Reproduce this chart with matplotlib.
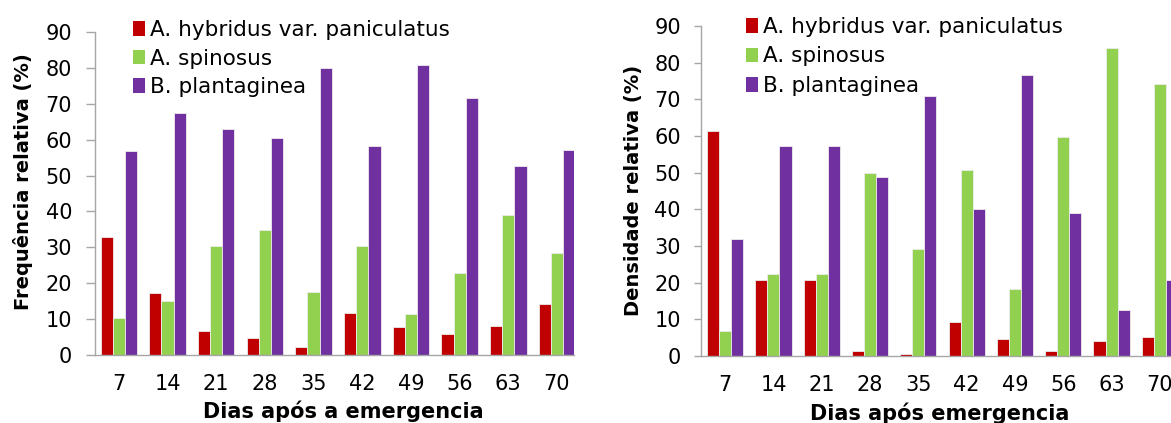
import numpy as np
import matplotlib
matplotlib.use('Agg')
import matplotlib.pyplot as plt
from matplotlib.patches import Patch

# Days after emergence
dias = ['7', '14', '21', '28', '35', '42', '49', '56', '63', '70']
especies = ['A. hybridus var. paniculatus', 'A. spinosus', 'B. plantaginea']
cores = ['#C00000', '#92D050', '#7030A0']

# Relative frequency (%)
freq_hybridus = [32.8, 17.3, 6.8, 4.7, 2.2, 11.7, 7.8, 5.8, 8.2, 14.2]
freq_spinosus = [10.3, 15.1, 30.3, 34.9, 17.6, 30.3, 11.3, 22.8, 39.0, 28.5]
freq_plantaginea = [56.9, 67.4, 63.0, 60.4, 80.0, 58.3, 80.8, 71.6, 52.7, 57.2]

# Relative density (%)
dens_hybridus = [61.3, 20.8, 20.8, 1.5, 0.5, 9.3, 4.7, 1.5, 4.0, 5.1]
dens_spinosus = [6.8, 22.5, 22.5, 49.8, 29.2, 50.8, 18.4, 59.6, 84.1, 74.3]
dens_plantaginea = [32.0, 57.2, 57.2, 48.7, 70.8, 40.1, 76.7, 39.0, 12.5, 20.8]

plt.rcParams['font.family'] = ['DejaVu Sans']

W, H = 1171, 423
fig = plt.figure(figsize=(W / 100, H / 100), dpi=100)

def px_axes(x0, x1, ytop, ybot):
    return fig.add_axes([x0 / W, (H - ybot) / H, (x1 - x0) / W, (ybot - ytop) / H])

ax1 = px_axes(95, 574, 32, 355)
ax2 = px_axes(701, 1184, 26, 356)

def draw(ax, series, xlim, ticklen, tickpad, legend_xy, spacing):
    x = np.arange(len(dias))
    w = 0.25
    for k, (vals, c) in enumerate(zip(series, cores)):
        ax.bar(x + (k - 1) * w, vals, w, color=c, edgecolor='#ececec', linewidth=0.6)
    ax.set_xlim(*xlim)
    ax.set_ylim(0, 90)
    ax.set_yticks(range(0, 91, 10))
    ax.set_xticks(x)
    ax.set_xticklabels(dias)
    for s in ['top', 'right']:
        ax.spines[s].set_visible(False)
    for s in ['left', 'bottom']:
        ax.spines[s].set_color('#a6a6a6')
        ax.spines[s].set_linewidth(1.0)
    ax.tick_params(axis='y', length=ticklen, width=1, color='#a6a6a6', labelsize=15, pad=tickpad)
    ax.tick_params(axis='x', length=0, labelsize=15, pad=14)
    handles = [Patch(facecolor=c, edgecolor='none') for c in cores]
    ax.legend(handles, especies, loc='upper left', bbox_to_anchor=legend_xy,
              bbox_transform=fig.transFigure, frameon=False, fontsize=15.5,
              handlelength=0.55, handleheight=0.68, handletextpad=0.22,
              labelspacing=spacing, borderaxespad=0, borderpad=0)

draw(ax1, [freq_hybridus, freq_spinosus, freq_plantaginea], (-0.49, 9.35), 6.5, 10,
     (133 / W, 1 - 20 / H), 0.40)
draw(ax2, [dens_hybridus, dens_spinosus, dens_plantaginea], (-0.5, 9.5), 5, 9.5,
     (746 / W, 1 - 17 / H), 0.44)

# axis titles
fig.text(23 / W, 1 - 182 / H, 'Frequência relativa (%)', rotation=90, ha='center', va='center',
         fontsize=14, fontweight='bold')
fig.text(633 / W, 1 - 190 / H, 'Densidade relativa (%)', rotation=90, ha='center', va='center',
         fontsize=14, fontweight='bold')
fig.text(343 / W, 1 - 411 / H, 'Dias após a emergencia', ha='center', va='center',
         fontsize=15, fontweight='bold')
fig.text(940 / W, 1 - 413 / H, 'Dias após emergencia', ha='center', va='center',
         fontsize=15, fontweight='bold')

fig.savefig('out.png', dpi=100)
